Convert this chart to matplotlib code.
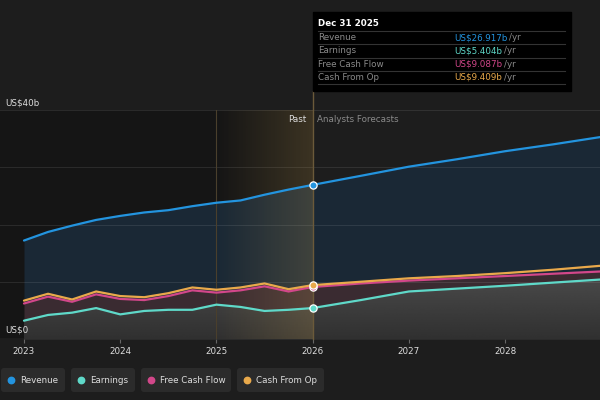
import numpy as np
import matplotlib
matplotlib.use("Agg")
import matplotlib.pyplot as plt
from matplotlib.patches import FancyBboxPatch, Rectangle

# values in US$ billions, x as decimal years
years_past = [2023.0, 2023.25, 2023.5, 2023.75, 2024.0, 2024.25, 2024.5, 2024.75,
              2025.0, 2025.25, 2025.5, 2025.75, 2026.0]
revenue_past = [17.2, 18.7, 19.8, 20.8, 21.5, 22.1, 22.5, 23.2, 23.8, 24.2, 25.2, 26.1, 26.917]
earnings_past = [3.2, 4.2, 4.6, 5.4, 4.3, 4.9, 5.1, 5.1, 6.0, 5.6, 4.9, 5.1, 5.404]
fcf_past = [6.2, 7.4, 6.5, 7.8, 7.0, 6.8, 7.5, 8.5, 8.1, 8.5, 9.2, 8.3, 9.087]
cfo_past = [6.7, 7.9, 6.9, 8.3, 7.5, 7.3, 8.0, 9.0, 8.6, 9.0, 9.7, 8.7, 9.409]

years_fc = [2026.5, 2027.0, 2027.5, 2028.0, 2028.5, 2029.0]
revenue_fc = [28.5, 30.1, 31.4, 32.8, 34.0, 35.3]
earnings_fc = [6.8, 8.3, 8.8, 9.3, 9.85, 10.4]
fcf_fc = [9.7, 10.2, 10.6, 11.0, 11.4, 11.8]
cfo_fc = [10.0, 10.6, 11.0, 11.5, 12.1, 12.8]

tick_years = [2023, 2024, 2025, 2026, 2027, 2028]
names = ["Revenue", "Earnings", "Free Cash Flow", "Cash From Op"]
values_2025 = ["US$26.917b", "US$5.404b", "US$9.087b", "US$9.409b"]
colors = ["#2394df", "#5fd9c9", "#d2478a", "#e9a94b"]

x = np.array(years_past + years_fc)
rev = np.array(revenue_past + revenue_fc)
earn = np.array(earnings_past + earnings_fc)
fcf = np.array(fcf_past + fcf_fc)
cfo = np.array(cfo_past + cfo_fc)

BG = "#1d1d1d"
FS = 6.3
fig = plt.figure(figsize=(6, 4), dpi=100, facecolor=BG)

ax = fig.add_axes([0, 61 / 400, 1, 229 / 400])
ax.set_facecolor(BG)
x0 = 2023 - 24 / 96.3
x1 = 2028 + 95 / 96.3
for s in ax.spines.values():
    s.set_visible(False)

# past area darker
ax.axvspan(x0, 2026, color="#151515", zorder=0)
ax.axhline(0, color="#3a3a3a", lw=1.0, zorder=1)

# stacked-looking fills
ax.fill_between(x, fcf, rev, color="#1a2835", lw=0, zorder=2)
ax.fill_between(x, earn, fcf, color="#3a2b31", lw=0, zorder=2)
earn_poly = ax.fill_between(x, 0, earn, color="#3a3a3a", lw=0, zorder=2)
shade = np.linspace(0.19, 0.29, 256).reshape(-1, 1)
im = ax.imshow(np.repeat(shade, 2, axis=1), cmap="gray", vmin=0, vmax=1,
               extent=[x0, x1, 0, 11], origin="lower", aspect="auto", zorder=2.1)
im.set_clip_path(earn_poly.get_paths()[0], transform=ax.transData)

for gy in [10, 20, 30, 40]:
    ax.axhline(gy, color="#ffffff", alpha=0.09, lw=0.8, zorder=2.5)

# gold highlight of last past year
grad = np.linspace(0, 1, 256).reshape(1, -1)
gold = np.zeros((1, 256, 4))
gold[..., 0] = 0.85
gold[..., 1] = 0.68
gold[..., 2] = 0.35
gold[..., 3] = grad * 0.2
ax.imshow(gold, extent=[2025, 2026, 0, 40], aspect="auto", zorder=3, interpolation="bilinear")
ax.axvline(2025, color="#4a3f2c", lw=0.8, zorder=3)
ax.set_xlim(x0, x1)
ax.set_ylim(0, 40)

for series, c in zip([rev, earn, fcf, cfo], colors):
    ax.plot(x, series, color=c, lw=1.6, zorder=5, solid_capstyle="round")
    ax.plot([2026], [series[len(years_past) - 1]], "o", ms=5.2, mfc=c, mec="white",
            mew=0.9, zorder=7)

ax.axvline(2026, ymin=0, ymax=(339 - 91) / 229, color="#6b5a3a", lw=1.0, zorder=4,
           clip_on=False)

ax.set_yticks([])
ax.set_xticks(tick_years)
ax.set_xticklabels([str(t) for t in tick_years], color="#dddddd", fontsize=FS)
ax.tick_params(axis="x", length=3, color="#666666", pad=2.5)

ax.text(1 / 120, 40.4, "US$40b", transform=ax.get_yaxis_transform(), color="#dddddd",
        fontsize=FS, va="bottom", ha="left")
ax.text(1 / 120, 0.8, "US$0", transform=ax.get_yaxis_transform(), color="#dddddd",
        fontsize=FS, va="bottom", ha="left")
ax.text(2026 - 0.07, 38.4, "Past", color="#dddddd", fontsize=FS, ha="right", va="center")
ax.text(2026 + 0.05, 38.4, "Analysts Forecasts", color="#8a8a8a", fontsize=FS,
        ha="left", va="center")

# overlay in pixel coords for tooltip and legend
ov = fig.add_axes([0, 0, 1, 1], facecolor="none")
ov.set_xlim(0, 600)
ov.set_ylim(400, 0)
ov.axis("off")

ov.add_patch(Rectangle((313, 12), 258, 79, color="#000000", zorder=1))
ov.text(318, 23, "Dec 31 2025", color="white", fontsize=FS, fontweight="bold", va="center")
fig.canvas.draw()
renderer = fig.canvas.get_renderer()
for i, (n, v, c) in enumerate(zip(names, values_2025, colors)):
    ly = 31 + i * 13.3
    ov.plot([318, 565], [ly, ly], color="#333333", lw=0.8, zorder=2)
    ov.text(318, ly + 6.5, n, color="#8a8a8a", fontsize=FS, va="center")
    t = ov.text(454, ly + 6.5, v, color=c, fontsize=FS, va="center")
    w = t.get_window_extent(renderer).width
    ov.text(454 + w + 2, ly + 6.5, "/yr", color="#8a8a8a", fontsize=FS, va="center")
ov.plot([318, 565], [84, 84], color="#333333", lw=0.8, zorder=2)

btn_x = [0, 70, 140, 236]
btn_w = [66, 66, 92, 89]
for bx, bw, n, c in zip(btn_x, btn_w, names, colors):
    ov.add_patch(FancyBboxPatch((bx + 1, 368), bw - 2, 24,
                                boxstyle="round,pad=0,rounding_size=3",
                                fc="#2b2b2b", ec="none"))
    ov.plot(bx + 11, 380, "o", ms=4.6, color=c)
    ov.text(bx + 20, 380.5, n, color="#dddddd", fontsize=FS, va="center")

fig.savefig("out.png", dpi=100, facecolor=BG)
